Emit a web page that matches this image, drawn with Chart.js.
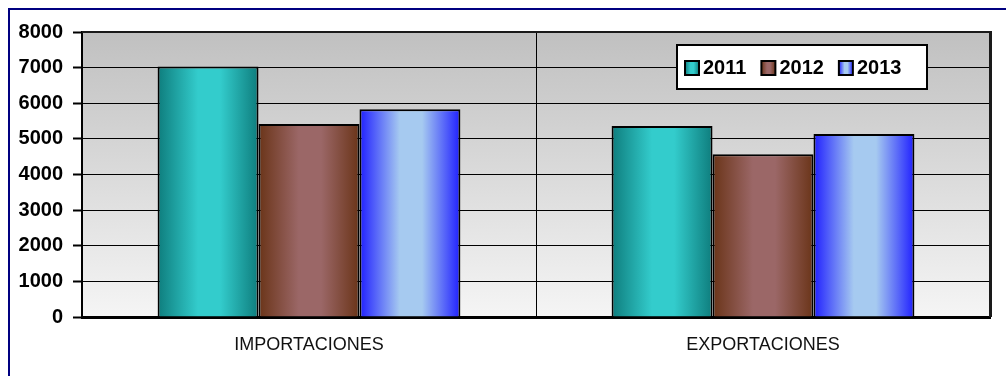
<!DOCTYPE html>
<html>
<head>
<meta charset="utf-8">
<script src="https://cdn.jsdelivr.net/npm/chart.js@4.4.1/dist/chart.umd.min.js"></script>
<style>
  body { margin: 0; background: #fff; overflow: hidden; }
  #wrap { position: relative; width: 1006px; height: 376px; }
  #frame { position: absolute; left: 8px; top: 8px; right: 0; bottom: 0;
           border-left: 2px solid #000080; border-top: 2px solid #000080; }
  #myChart { position: absolute; left: 0; top: 0; }
</style>
</head>
<body>
<div id="wrap">
  <div id="frame"></div>
  <canvas id="myChart" width="1006" height="376"></canvas>
</div>
<script>
  // data
  const categories = ['IMPORTACIONES', 'EXPORTACIONES'];
  const years = ['2011', '2012', '2013'];
  const v2011 = [7030, 5360];
  const v2012 = [5420, 4570];
  const v2013 = [5830, 5140];
  const yTicks = [0, 1000, 2000, 3000, 4000, 5000, 6000, 7000, 8000];

  // edge / centre shades for the cylinder-ish bars
  const shades = [
    { edge: '#0e7d7d', mid: '#33cccc' },
    { edge: '#6a3418', mid: '#9b6767' },
    { edge: '#1f1fff', mid: '#a6caf0' }
  ];
  const catPct = 0.667;

  function shadeGradient(ctx, left, w, s) {
    const g = ctx.createLinearGradient(left, 0, left + w, 0);
    g.addColorStop(0, s.edge);
    g.addColorStop(0.4, s.mid);
    g.addColorStop(0.62, s.mid);
    g.addColorStop(1, s.edge);
    return g;
  }

  const barFill = (c) => {
    const s = shades[c.datasetIndex];
    const xs = c.chart.scales.x;
    if (c.dataIndex === undefined || !xs) return s.mid;
    const catW = xs.width / categories.length;
    const group = catW * catPct;
    const barW = group / years.length;
    const left = xs.getPixelForValue(c.dataIndex) - group / 2 + c.datasetIndex * barW;
    if (!isFinite(left) || !isFinite(barW) || barW <= 0) return s.mid;
    return shadeGradient(c.chart.ctx, left, barW, s);
  };

  const plotBack = {
    id: 'plotBack',
    beforeDraw(chart) {
      const { ctx, chartArea: a } = chart;
      const g = ctx.createLinearGradient(0, a.top, 0, a.bottom);
      g.addColorStop(0, '#c0c0c0');
      g.addColorStop(1, '#f5f5f5');
      ctx.save();
      ctx.fillStyle = g;
      ctx.fillRect(a.left, a.top, a.right - a.left, a.bottom - a.top);
      ctx.restore();
    },
    afterDatasetsDraw(chart) {
      const { ctx, chartArea: a } = chart;
      ctx.save();
      // top and right frame of plot area
      ctx.strokeStyle = '#1a1a1a';
      ctx.lineWidth = 2;
      ctx.beginPath();
      ctx.moveTo(a.left, a.top);
      ctx.lineTo(a.right, a.top);
      ctx.stroke();
      ctx.lineWidth = 3;
      ctx.beginPath();
      ctx.moveTo(a.right + 0.5, a.top - 1);
      ctx.lineTo(a.right + 0.5, a.bottom);
      ctx.stroke();

      // legend box inside the plot
      const bx = 677, by = 45, bw = 250, bh = 44;
      ctx.fillStyle = '#fff';
      ctx.fillRect(bx, by, bw, bh);
      ctx.strokeStyle = '#000';
      ctx.lineWidth = 2;
      ctx.strokeRect(bx, by, bw, bh);
      ctx.font = 'bold 20px "Liberation Sans", Arial, sans-serif';
      ctx.textBaseline = 'middle';
      ctx.textAlign = 'left';
      let x = bx + 8;
      const cy = by + bh / 2 + 1;
      chart.data.datasets.forEach((ds, i) => {
        const sw = 14;
        ctx.fillStyle = shadeGradient(ctx, x, sw, shades[i]);
        ctx.fillRect(x, cy - 7, sw, sw);
        ctx.lineWidth = 2;
        ctx.strokeStyle = '#000';
        ctx.strokeRect(x, cy - 7, sw, sw);
        ctx.fillStyle = '#000';
        ctx.fillText(ds.label, x + sw + 4, cy);
        x += sw + 4 + ctx.measureText(ds.label).width + 15;
      });
      ctx.restore();
    }
  };

  const barStyle = {
    backgroundColor: barFill,
    borderColor: '#000',
    borderWidth: 2,
    categoryPercentage: catPct,
    barPercentage: 1
  };

  new Chart('myChart', {
    type: 'bar',
    data: {
      labels: categories,
      datasets: [
        Object.assign({ label: years[0], data: v2011 }, barStyle),
        Object.assign({ label: years[1], data: v2012 }, barStyle),
        Object.assign({ label: years[2], data: v2013 }, barStyle)
      ]
    },
    options: {
      responsive: false,
      animation: false,
      layout: { padding: { left: 0, top: 32, right: 16, bottom: 0 } },
      plugins: {
        colors: { enabled: false },
        legend: { display: false },
        tooltip: { enabled: false }
      },
      scales: {
        x: {
          afterFit: (s) => { s.height = 59; },
          grid: { color: '#000', lineWidth: 1, offset: true, drawTicks: false },
          border: { color: '#000', width: 3 },
          ticks: {
            padding: 17,
            color: '#111',
            font: { family: '"Liberation Sans", Arial, sans-serif', size: 18 }
          }
        },
        y: {
          min: 0,
          max: 8000,
          afterFit: (s) => { s.width = 82; },
          afterBuildTicks: (s) => { s.ticks = yTicks.map(v => ({ value: v })); },
          grid: { color: '#000', lineWidth: 1, tickColor: '#000', tickLength: 9, tickWidth: 2 },
          border: { color: '#000', width: 2 },
          ticks: {
            padding: 10,
            color: '#000',
            callback: (v) => String(v),
            font: { family: '"Liberation Sans", Arial, sans-serif', size: 20, weight: 'bold' }
          }
        }
      }
    },
    plugins: [plotBack]
  });
</script>
</body>
</html>
